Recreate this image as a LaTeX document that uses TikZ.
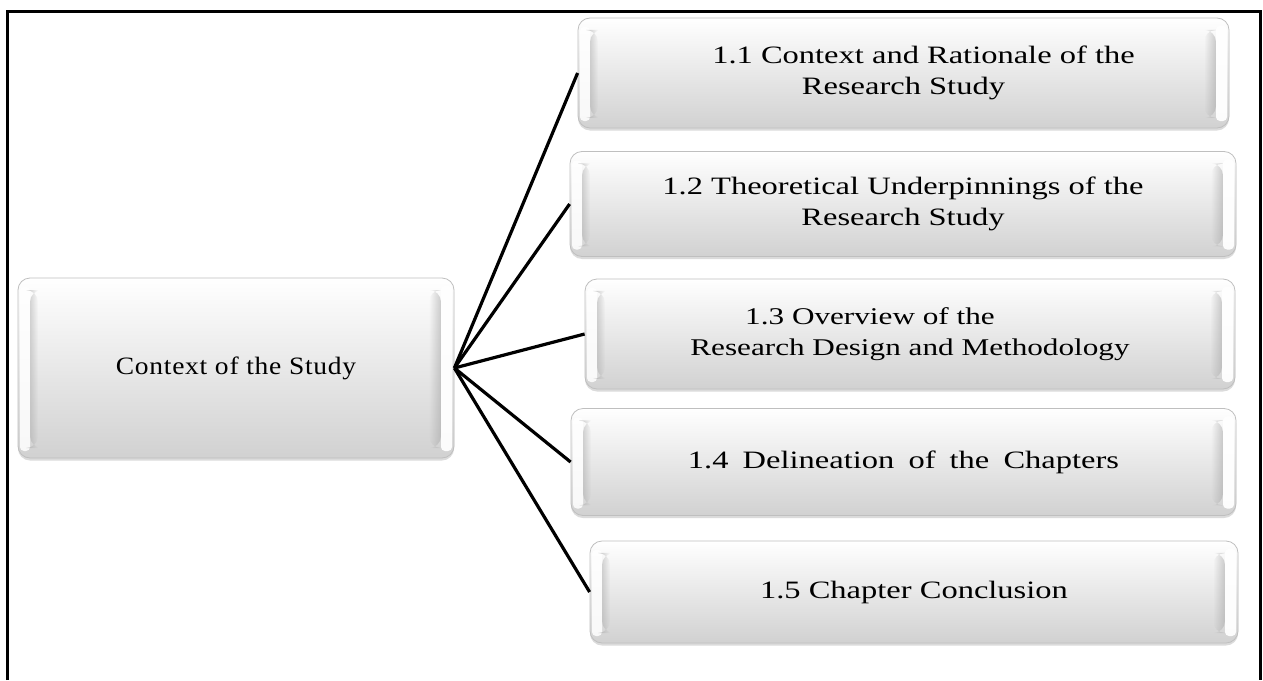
\documentclass[tikz,border=0pt]{standalone}
\usepackage{fontspec}
\setmainfont{Liberation Serif}
\newfontfamily\boxfont{Liberation Serif}[FakeStretch=1.3]
\newfontfamily\hubfont{Liberation Serif}[FakeStretch=1.1, LetterSpace=3]
\usetikzlibrary{shadows,calc,fadings}

\newcommand{\wsp}{\hspace{6pt} }

\tikzset{
  glossbox/.style={
    draw=gray!50, line width=0.8pt, rounded corners=12pt,
    top color=white, middle color=gray!9, bottom color=gray!36,
    drop shadow={shadow xshift=0pt, shadow yshift=-2.5pt, opacity=0.35, fill=gray!80},
    align=center, inner sep=0pt,
    path picture={
      % bright rim along the left edge, with a soft seam on its inner side
      \fill[white, opacity=0.85, rounded corners=4pt]
        ([shift={(2pt,-9pt)}]path picture bounding box.north west)
        rectangle ([shift={(12pt,7pt)}]path picture bounding box.south west);
      \fill[gray!70, opacity=0.45, path fading=east]
        ([shift={(12pt,-12pt)}]path picture bounding box.north west)
        rectangle ([shift={(20pt,10pt)}]path picture bounding box.south west);
      % darker band and bright rim along the right edge
      \fill[gray!70, opacity=0.55, path fading=west]
        ([shift={(-25pt,-12pt)}]path picture bounding box.north east)
        rectangle ([shift={(-13pt,10pt)}]path picture bounding box.south east);
      \fill[white, opacity=0.95, rounded corners=4pt]
        ([shift={(-13pt,-8pt)}]path picture bounding box.north east)
        rectangle ([shift={(-2pt,7pt)}]path picture bounding box.south east);
    }
  },
  subbox/.style={glossbox, font=\boxfont\fontsize{25}{31}\selectfont},
  hubbox/.style={glossbox, font=\hubfont\fontsize{25}{30}\selectfont},
  spoke/.style={line width=3.2pt, black},
  frameline/.style={line width=3pt, black}
}

\begin{document}
\begin{tikzpicture}[x=1pt, y=-1pt]
  \useasboundingbox (0,0) rectangle (1263,680);
  \fill[white] (0,0) rectangle (1263,680);

  % open frame: top, left and right sides
  \draw[frameline] (7.5,680) -- (7.5,11) -- (1260,11) -- (1260,680);

  % central box
  \node[hubbox, minimum width=436pt, minimum height=180pt] (hub) at (236,368)
    {Context of the Study};

  % section boxes
  \node[subbox, minimum width=651pt, minimum height=110pt] (s1) at (903.5,73)
    {\hspace*{40pt}1.1 Context and Rationale of the\\Research Study};
  \node[subbox, minimum width=666pt, minimum height=105pt] (s2) at (903,204)
    {1.2 Theoretical Underpinnings of the\\Research Study};
  \node[subbox, minimum width=650pt, minimum height=110pt,
        font=\boxfont\fontsize{24}{31}\selectfont] (s3) at (910,334)
    {1.3 Overview of the\hspace*{80pt}\\Research Design and Methodology};
  \node[subbox, minimum width=665pt, minimum height=107pt] (s4) at (903.5,462)
    {1.4\wsp Delineation\wsp of\wsp the\wsp Chapters};
  \node[subbox, minimum width=648pt, minimum height=102pt] (s5) at (914,592)
    {1.5 Chapter Conclusion};

  % spokes from the central box to each section
  \foreach \s in {s1,s2,s3,s4,s5}
    \draw[spoke] (hub.east) -- (\s.west);
\end{tikzpicture}
\end{document}
